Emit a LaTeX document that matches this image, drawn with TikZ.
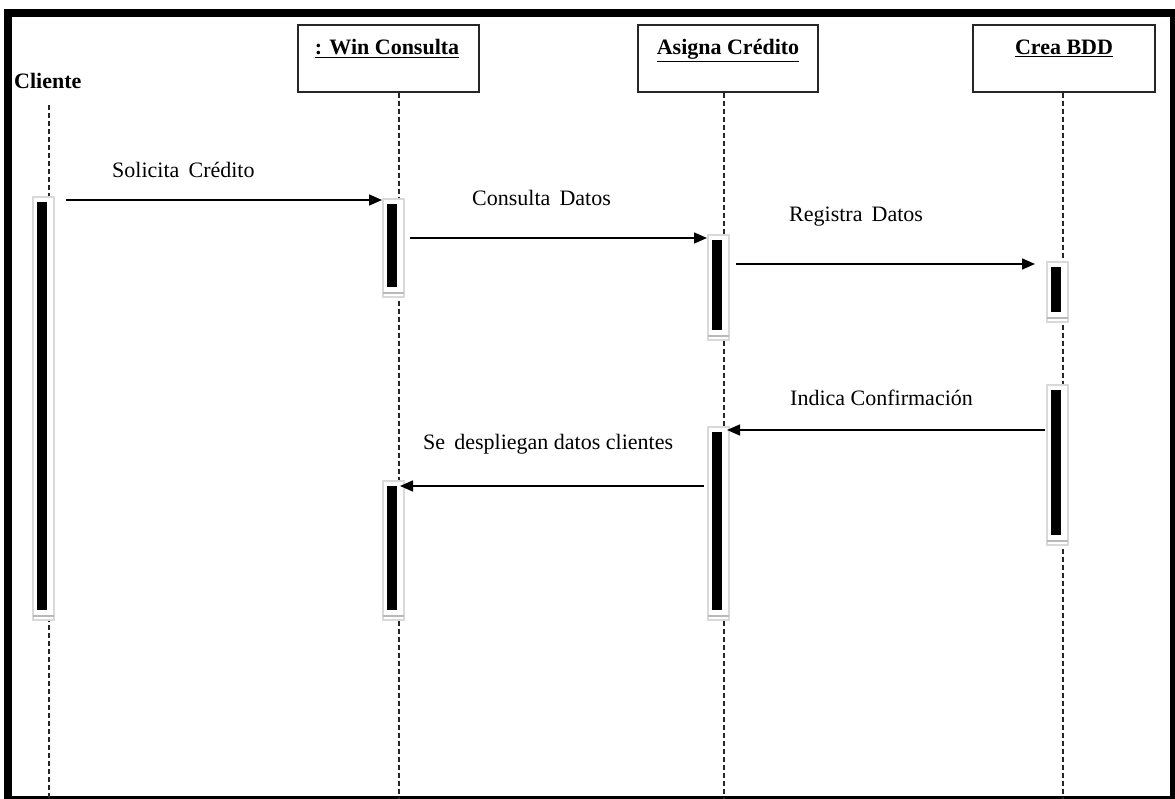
\documentclass[tikz,border=0pt]{standalone}
\usepackage{fontspec}
\setmainfont{Liberation Serif}
\usetikzlibrary{arrows.meta}

% activation bar: name, lifeline x, top y, bottom y
\newcommand\actbar[4]{%
  \path[draw=gray!30, fill=white, line width=1.5pt] (#2-16,#3) rectangle (#2+5,#4);
  \fill[black] (#2-12,#3+5) rectangle (#2-2,#4-10);
  \draw[gray!55, line width=2.5pt] (#2-16,#4-4) -- (#2+5,#4-4);
  \coordinate (#1) at (#2,#3);}

\begin{document}
\begin{tikzpicture}[x=1pt, y=-1pt,
  objbox/.style={draw=black!85, line width=1.5pt, minimum width=#1,
                 minimum height=67pt, inner sep=0pt},
  hdr/.style={font=\fontsize{22}{26}\selectfont\bfseries, inner sep=0pt, anchor=base},
  msglabel/.style={font=\fontsize{22}{26}\selectfont, inner sep=0pt, anchor=base west},
  lifeline/.style={draw=black!85, line width=1.2pt, dash pattern=on 5pt off 3pt},
  msg/.style={draw=black, line width=1.5pt, -{Triangle[length=13pt,width=11pt]}}]
\useasboundingbox (0,0) rectangle (1175,799);

% frame
\fill[black] (4,9) rectangle (1180,805);
\fill[white] (12,17) rectangle (1170,796);

% objects
\node[hdr, anchor=base west] (cl) at (14,89) {Cliente};
\node[objbox=181pt] (wc) at (388.5,58.5) {};
\node[objbox=180pt] (ac) at (728,58.5) {};
\node[objbox=182pt] (cb) at (1064,58.5) {};
\node[hdr] (wct) at (387,55) {\underline{: Win Consulta}};
\node[hdr] (act) at (728,55) {\underline{Asigna Crédito}};
\node[hdr] (cbt) at (1064,55) {\underline{Crea BDD}};

% lifelines
\coordinate (l1) at (49,105);
\coordinate (l2) at (399,0);
\coordinate (l3) at (724,0);
\coordinate (l4) at (1063,0);
\coordinate (e1) at (49,799);
\coordinate (e2) at (399,799);
\coordinate (e3) at (724,799);
\coordinate (e4) at (1063,799);
\draw[lifeline] (l1) -- (e1);
\draw[lifeline] (wc.south -| l2) -- (e2);
\draw[lifeline] (ac.south -| l3) -- (e3);
\draw[lifeline] (cb.south -| l4) -- (e4);

% activations
\actbar{a1}{49}{197}{620}
\actbar{a2}{399}{199}{297}
\actbar{a3}{399}{481}{620}
\actbar{a4}{724}{235}{340}
\actbar{a5}{724}{427}{620}
\actbar{a6}{1063}{262}{322}
\actbar{a7}{1063}{385}{545}

% messages
\coordinate (m1s) at (66,200);   \coordinate (m1e) at (382,200);
\coordinate (m2s) at (410,238);  \coordinate (m2e) at (707,238);
\coordinate (m3s) at (736,264);  \coordinate (m3e) at (1035,264);
\coordinate (m4s) at (1045,430); \coordinate (m4e) at (727,430);
\coordinate (m5s) at (704,486);  \coordinate (m5e) at (400,486);
\draw[msg] (m1s) -- (m1e);
\draw[msg] (m2s) -- (m2e);
\draw[msg] (m3s) -- (m3e);
\draw[msg] (m4s) -- (m4e);
\draw[msg] (m5s) -- (m5e);

\node[msglabel] (t1) at (112,178) {Solicita\, Crédito};
\node[msglabel] (t2) at (472,206) {Consulta\, Datos};
\node[msglabel] (t3) at (789,222) {Registra\, Datos};
\node[msglabel] (t4) at (790,405) {Indica Confirmación};
\node[msglabel] (t5) at (423,449) {Se\, despliegan datos clientes};
\end{tikzpicture}
\end{document}
